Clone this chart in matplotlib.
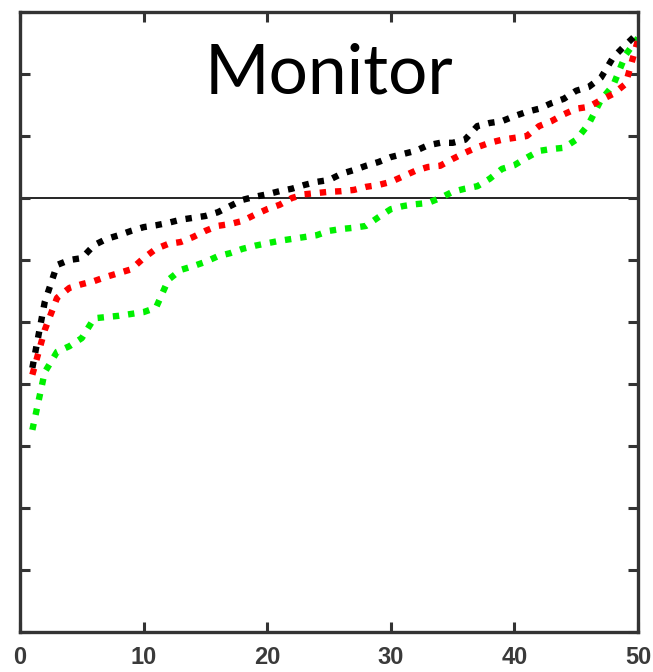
import matplotlib
matplotlib.use("Agg")
import matplotlib.pyplot as plt
import numpy as np

x = np.arange(1, 51)

black_vals = [-2.74, -1.68, -1.08, -1.00, -0.97, -0.76, -0.66, -0.60, -0.53, -0.47,
              -0.44, -0.40, -0.35, -0.32, -0.29, -0.23, -0.13, -0.03, 0.02, 0.06,
              0.11, 0.15, 0.21, 0.26, 0.29, 0.39, 0.45, 0.52, 0.58, 0.66,
              0.71, 0.76, 0.85, 0.89, 0.89, 0.94, 1.16, 1.21, 1.24, 1.32,
              1.39, 1.44, 1.53, 1.60, 1.73, 1.79, 1.94, 2.27, 2.47, 2.66]

red_vals = [-2.85, -2.13, -1.61, -1.45, -1.39, -1.34, -1.27, -1.21, -1.15, -0.97,
            -0.82, -0.74, -0.71, -0.63, -0.53, -0.45, -0.42, -0.37, -0.27, -0.18,
            -0.11, 0.00, 0.06, 0.08, 0.10, 0.11, 0.13, 0.18, 0.21, 0.26,
            0.35, 0.44, 0.50, 0.52, 0.63, 0.73, 0.82, 0.89, 0.94, 0.97,
            1.00, 1.16, 1.24, 1.35, 1.44, 1.47, 1.58, 1.68, 1.84, 2.55]

green_vals = [-3.74, -2.81, -2.48, -2.39, -2.26, -1.94, -1.92, -1.90, -1.87, -1.84,
              -1.77, -1.32, -1.16, -1.10, -1.03, -0.94, -0.89, -0.82, -0.77, -0.73,
              -0.69, -0.66, -0.63, -0.60, -0.53, -0.50, -0.48, -0.45, -0.31, -0.18,
              -0.13, -0.10, -0.08, 0.00, 0.10, 0.15, 0.19, 0.31, 0.47, 0.53,
              0.65, 0.76, 0.79, 0.81, 0.94, 1.19, 1.58, 1.82, 2.31, 2.58]

xticks = [0, 10, 20, 30, 40, 50]
yticks = list(range(-7, 4))
title = "Monitor"

fig = plt.figure(figsize=(6.53, 6.72), dpi=100)
ax = fig.add_axes([20/653, 40/672, 618/653, 620/672])

ax.axhline(0, color="black", lw=1.2, zorder=1)
for vals, col in [(green_vals, "#00f000"), (red_vals, "#ff0000"), (black_vals, "#000000")]:
    ax.plot(x, vals, color=col, lw=4.6, linestyle=(0, (1, 1.4)),
            dash_capstyle="butt", zorder=2)

ax.set_xlim(0, 50)
ax.set_ylim(-7, 3)
ax.set_xticks(xticks)
ax.set_xticklabels([str(t) for t in xticks], fontsize=17, fontweight="bold",
                   color="#3a3a3a", family="Liberation Sans")
ax.set_yticks(yticks)
ax.set_yticklabels([])
ax.tick_params(direction="in", length=7, width=2.2, color="#333333",
               top=True, right=True, pad=10)
for s in ax.spines.values():
    s.set_linewidth(2.4)
    s.set_color("#333333")

ax.text(0.500, 0.868, title, transform=ax.transAxes, ha="center", va="baseline",
        fontsize=50, family="Lato", color="black")

fig.savefig("out.png", dpi=100)
